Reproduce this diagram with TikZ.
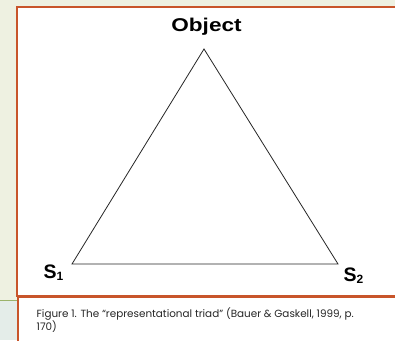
\documentclass[tikz,border=0pt]{standalone}
\usepackage{fontspec}
\setmainfont{Liberation Sans}
\newfontfamily\capfont{Poppins}
\definecolor{bgtop}{HTML}{EEF1E1}
\definecolor{bgbot}{HTML}{E4EDE9}
\definecolor{rulegreen}{HTML}{9BB36A}
\definecolor{frame}{HTML}{C8552A}
\newcommand{\sbx}[1]{\raisebox{-2pt}{\fontsize{12}{12}\selectfont #1}}
\tikzset{
  lab/.style={font=\bfseries\fontsize{18.5}{18.5}\selectfont, inner sep=0pt},
  slab/.style={font=\bfseries\fontsize{19.5}{19.5}\selectfont, inner sep=0pt},
  side/.style={draw=black!85, line width=0.8pt, line join=miter},
  panel/.style={fill=white, draw=frame, line width=2pt},
  capstyle/.style={font=\capfont\fontsize{10.4}{8.5}\selectfont, inner sep=0pt, align=left, text=black!85}
}
\begin{document}
\begin{tikzpicture}[x=1pt,y=-1pt]
\useasboundingbox (0,0) rectangle (395,340);
\fill[bgtop] (0,0) rectangle (395,300);
\fill[bgbot] (0,300) rectangle (395,340);
\draw[rulegreen, line width=1.5pt] (0,300.5) -- (17,300.5);
\draw[panel] (18.3,297) rectangle (402,346);
\draw[panel] (17,7) rectangle (402,295.5);
\coordinate (top) at (204,49);
\coordinate (left) at (72,264);
\coordinate (right) at (338,264);
\draw[side] (top) -- (left) -- (right) -- cycle;
\node[lab, anchor=base, xscale=1.22] (obj) at (206.5,31.5) {Object};
\node[slab, anchor=base west] (s1) at (43.5,278.5) {S\sbx{1}};
\node[slab, anchor=base west] (s2) at (343.5,281.5) {S\sbx{2}};
\node[capstyle, anchor=north west] (caption) at (36.5,307.5) {Figure 1. The “representational triad” (Bauer \& Gaskell, 1999, p.\\170)};
\end{tikzpicture}
\end{document}
